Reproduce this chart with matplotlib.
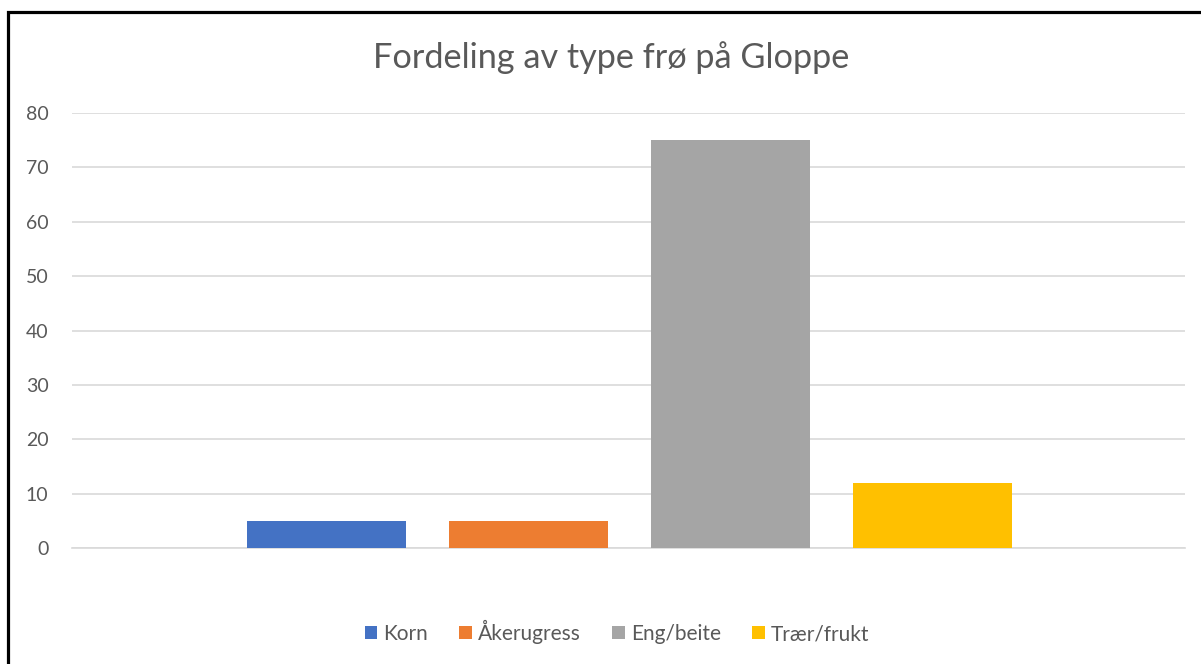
import matplotlib.pyplot as plt
from matplotlib.patches import Rectangle

series = ["Korn", "Åkerugress", "Eng/beite", "Trær/frukt"]
values = [5, 5, 75, 12]
colors = ["#4472c4", "#ed7d31", "#a5a5a5", "#ffc000"]
yticks = [0, 10, 20, 30, 40, 50, 60, 70, 80]

plt.rcParams['font.family'] = ['Lato', 'DejaVu Sans']

fig = plt.figure(figsize=(12.01, 6.64), dpi=100)
ax = fig.add_axes([72 / 1201, 1 - 548 / 664, (1185 - 72) / 1201, (548 - 113) / 664])

w = 159 / 202
bars = []
for i, (name, v, c) in enumerate(zip(series, values, colors)):
    b = ax.bar(i, v, width=w, color=c, label=name, zorder=3)
    bars.append(b)

ax.set_xlim(-w / 2 - 175 / 202, 3 + w / 2 + 173 / 202)
ax.set_ylim(0, 80)
ax.set_yticks(yticks)
ax.set_xticks([])
ax.grid(axis='y', color='#d9d9d9', linewidth=1.2, zorder=0)
for s in ['top', 'right', 'left']:
    ax.spines[s].set_visible(False)
ax.spines['bottom'].set_color('#d9d9d9')
ax.spines['bottom'].set_linewidth(1.2)
ax.tick_params(axis='y', length=0, pad=17, labelsize=14, labelcolor='#595959')

fig.text(611 / 1201, 1 - 58 / 664, "Fordeling av type frø på Gloppe",
         ha='center', va='center', fontsize=24.7, color='#595959')

fig.legend(handles=bars, labels=series, loc='center', bbox_to_anchor=(617 / 1201, 1 - 632 / 664),
           ncol=4, frameon=False, fontsize=15, handlelength=0.6, handleheight=0.6,
           handletextpad=0.3, columnspacing=1.5, labelcolor='#595959')

fig.patches.append(Rectangle((8 / 1201, -0.05), 1.1, 1 - 12 / 664 + 0.05,
                             transform=fig.transFigure, fill=False,
                             edgecolor='black', linewidth=2.3, figure=fig))

fig.savefig("out.png", dpi=100)
